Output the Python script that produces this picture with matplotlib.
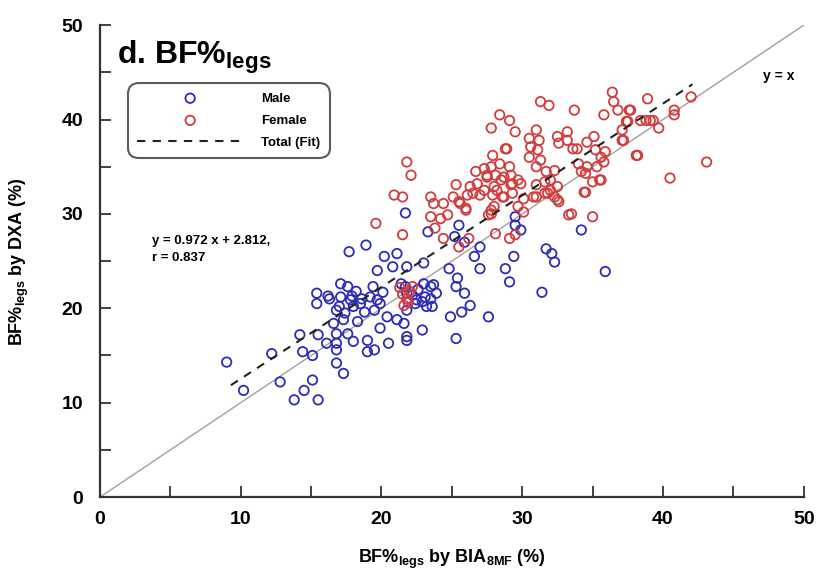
import numpy as np
import matplotlib
matplotlib.use("Agg")
import matplotlib.pyplot as plt
from matplotlib.ticker import MultipleLocator

plt.rcParams['font.family'] = ['Liberation Sans', 'DejaVu Sans']
plt.rcParams['font.weight'] = 'bold'
plt.rcParams['mathtext.fontset'] = 'custom'
plt.rcParams['mathtext.rm'] = 'Liberation Sans:bold'
plt.rcParams['mathtext.bf'] = 'Liberation Sans:bold'

# BF% legs: BIA (x) vs DXA (y)
male_x = [9.0, 10.2, 12.2, 12.8, 13.8, 14.5, 15.1, 15.5, 14.2, 14.4, 15.1, 15.5, 16.1,
          15.4, 15.4, 16.3, 17.1, 17.6, 17.1, 17.8, 18.0, 18.5, 16.8, 16.6, 17.3, 16.8,
          17.6, 16.8, 16.8, 16.8, 17.3, 18.0, 17.7, 18.9, 19.7, 20.2, 21.1, 20.8, 19.7,
          19.9, 19.2, 19.0, 19.5, 19.0, 20.4, 19.9, 20.5, 21.1, 21.8, 22.9, 21.7, 21.8,
          23.0, 21.4, 23.0, 23.5, 23.1, 23.2, 22.5, 21.8, 18.2, 18.8, 17.4, 18.3, 19.5,
          20.1, 19.4, 23.3, 24.8, 25.4, 25.3, 25.9, 26.3, 25.7, 24.9, 25.3, 27.6, 23.7,
          21.8, 27.0, 26.6, 27.0, 28.8, 29.1, 29.4, 31.4, 31.7, 32.1, 32.3, 34.2, 35.9,
          25.2, 25.9, 22.9, 23.5, 23.6, 21.7, 21.8, 21.6, 25.5, 29.5, 29.9, 29.5, 22.2,
          22.6, 23.9, 22.4, 17.9, 18.6, 16.2, 17.0]
male_y = [14.3, 11.3, 15.2, 12.2, 10.3, 11.3, 12.4, 10.3, 17.2, 15.4, 15.0, 17.2, 16.3,
          21.6, 20.5, 21.0, 22.6, 22.3, 21.2, 20.9, 20.2, 20.5, 19.8, 18.4, 18.8, 17.3,
          17.3, 16.3, 15.6, 14.2, 13.1, 16.5, 26.0, 26.7, 24.0, 25.5, 25.8, 24.4, 20.9,
          20.5, 21.2, 16.6, 15.6, 15.4, 19.1, 17.9, 16.3, 18.8, 16.6, 17.7, 30.1, 24.4,
          24.8, 22.6, 22.6, 22.3, 21.2, 20.2, 20.9, 21.6, 21.8, 19.6, 19.5, 18.6, 19.8,
          21.7, 22.3, 28.1, 24.2, 23.2, 22.3, 21.6, 20.3, 19.6, 19.1, 16.8, 19.1, 22.5,
          17.0, 26.5, 25.5, 24.2, 24.2, 22.8, 25.5, 21.7, 26.3, 25.8, 24.9, 28.3, 23.9,
          27.6, 27.0, 20.7, 21.0, 20.2, 22.3, 19.8, 18.4, 28.8, 28.8, 28.3, 29.7, 21.4,
          22.0, 21.6, 20.5, 21.3, 21.0, 21.3, 20.2]

female_x = [21.8, 22.1, 20.9, 21.5, 19.6, 21.5, 23.5, 23.7, 24.4, 23.5, 24.2, 24.7, 25.3,
            25.5, 26.1, 26.3, 26.8, 27.0, 26.0, 23.8, 24.4, 25.5, 26.2, 28.1, 29.1, 27.8,
            28.2, 27.5, 28.5, 29.2, 29.7, 28.7, 30.1, 30.8, 31.6, 32.3, 32.6, 33.5, 35.0,
            34.5, 35.5, 27.6, 31.3, 31.9, 33.7, 36.4, 36.5, 35.8, 36.8, 37.6, 37.4, 37.1,
            37.1, 38.2, 38.4, 39.1, 28.4, 29.1, 27.8, 29.5, 31.0, 30.5, 31.2, 28.8, 32.5,
            33.2, 33.2, 33.9, 34.6, 35.1, 35.2, 35.6, 35.9, 35.8, 35.3, 34.6, 34.2, 34.0,
            33.6, 32.6, 34.4, 35.0, 35.6, 34.5, 33.3, 30.6, 30.5, 31.1, 31.0, 31.3, 31.7,
            32.3, 32.0, 31.6, 32.0, 32.5, 31.0, 31.8, 28.9, 27.9, 27.3, 26.7, 27.8, 28.4,
            29.1, 29.2, 28.7, 28.1, 27.5, 25.1, 25.6, 26.5, 27.3, 28.0, 29.3, 29.9, 27.9,
            28.6, 29.3, 30.1, 31.0, 32.5, 26.0, 28.0, 29.7, 27.8, 29.5, 38.9, 42.0, 40.8,
            40.8, 39.7, 39.3, 38.8, 37.7, 37.5, 37.2, 38.1, 43.1, 40.5, 21.5, 21.8, 22.0,
            21.3, 21.9, 22.2, 21.6]
female_y = [35.5, 34.1, 32.0, 31.8, 29.0, 27.8, 31.8, 31.1, 31.1, 29.7, 29.5, 29.9, 33.1,
            31.3, 32.0, 32.9, 33.2, 32.0, 30.6, 28.5, 27.4, 26.5, 27.4, 27.9, 27.4, 30.4,
            32.5, 34.1, 33.6, 33.1, 33.6, 31.8, 30.2, 31.8, 32.2, 31.8, 31.3, 30.0, 29.7,
            32.3, 33.6, 29.9, 41.9, 41.5, 41.0, 42.9, 41.9, 40.5, 41.0, 41.0, 39.8, 38.9,
            37.8, 36.2, 39.9, 39.9, 40.5, 39.9, 39.1, 38.7, 38.9, 38.0, 37.8, 36.9, 38.2,
            38.7, 37.8, 36.9, 37.6, 38.2, 36.8, 36.0, 36.6, 35.5, 35.0, 35.0, 34.5, 35.3,
            36.9, 37.5, 32.3, 33.4, 33.6, 34.3, 29.9, 37.1, 36.0, 36.8, 35.0, 35.7, 34.5,
            34.6, 33.6, 33.4, 32.5, 31.5, 31.8, 32.2, 36.9, 36.2, 34.8, 34.5, 35.0, 35.3,
            35.0, 34.1, 33.9, 34.1, 33.9, 31.8, 31.1, 32.2, 32.5, 32.9, 33.2, 33.2, 32.0,
            31.8, 32.2, 31.6, 33.1, 32.9, 30.4, 30.8, 30.8, 30.0, 27.8, 42.2, 42.4, 41.0,
            40.5, 39.1, 39.9, 39.9, 41.0, 39.8, 37.8, 36.2, 35.5, 33.8, 21.5, 21.0, 21.8,
            22.2, 20.6, 22.3, 20.3]

slope = 0.972
intercept = 2.812
r_value = 0.837
fit_range = [9.3, 42.1]

fig = plt.figure(figsize=(8.25, 5.72), dpi=100)
ax = fig.add_axes([0.1212, 0.131, 0.853, 0.825])

ax.plot([0, 50], [0, 50], color='#a0a0a0', lw=1.0, zorder=1)
ax.scatter(male_x, male_y, s=46, facecolors='none', edgecolors='#2d2db4',
           linewidths=1.3, label='Male', zorder=3)
ax.scatter(female_x, female_y, s=46, facecolors='none', edgecolors='#d23c3c',
           linewidths=1.3, label='Female', zorder=3)
fx = np.array(fit_range)
ax.plot(fx, slope * fx + intercept, color='#222222', lw=1.5, dashes=(4, 3.5),
        label='Total (Fit)', zorder=4)

ax.set_xlim(0, 50)
ax.set_ylim(0, 50)
ax.xaxis.set_major_locator(MultipleLocator(10))
ax.yaxis.set_major_locator(MultipleLocator(10))
ax.xaxis.set_minor_locator(MultipleLocator(5))
ax.yaxis.set_minor_locator(MultipleLocator(5))
ax.tick_params(which='both', direction='in', length=8, width=1.3, color='#333333')
ax.tick_params(axis='y', which='major', pad=12, labelsize=14)
ax.tick_params(axis='x', which='major', pad=10, labelsize=14)
for side in ['top', 'right']:
    ax.spines[side].set_visible(False)
for side in ['left', 'bottom']:
    ax.spines[side].set_linewidth(1.6)
    ax.spines[side].set_color('#333333')

ax.set_xlabel(r'BF%$_{\mathrm{legs}}$ by BIA$_{\mathrm{8MF}}$ (%)', fontsize=13,
              fontweight='bold', labelpad=14)
ax.set_ylabel(r'BF%$_{\mathrm{legs}}$ by DXA (%)', fontsize=13, fontweight='bold',
              labelpad=22)

ax.text(1.2, 46.6, r'd. BF%$_{\mathrm{legs}}$', fontsize=23, fontweight='bold',
        va='center', ha='left')
ax.text(3.7, 26.2, 'y = %.3f x + %.3f,\nr = %.3f' % (slope, intercept, r_value),
        fontsize=9.5, fontweight='bold', va='center', ha='left', linespacing=1.6)
ax.text(48.2, 44.6, 'y = x', fontsize=10, fontweight='bold', ha='center', va='center')

leg = ax.legend(loc='upper left', bbox_to_anchor=(0.04, 0.877), fontsize=9.5,
                handlelength=8.0, handletextpad=1.4, labelspacing=0.75,
                borderpad=0.7, borderaxespad=0, frameon=True, fancybox=True,
                scatterpoints=1)
frame = leg.get_frame()
frame.set_edgecolor('#333333')
frame.set_linewidth(1.5)
frame.set_boxstyle('round', pad=0, rounding_size=0.8)
for t in leg.get_texts():
    t.set_fontweight('bold')

fig.savefig('out.png', dpi=100)
